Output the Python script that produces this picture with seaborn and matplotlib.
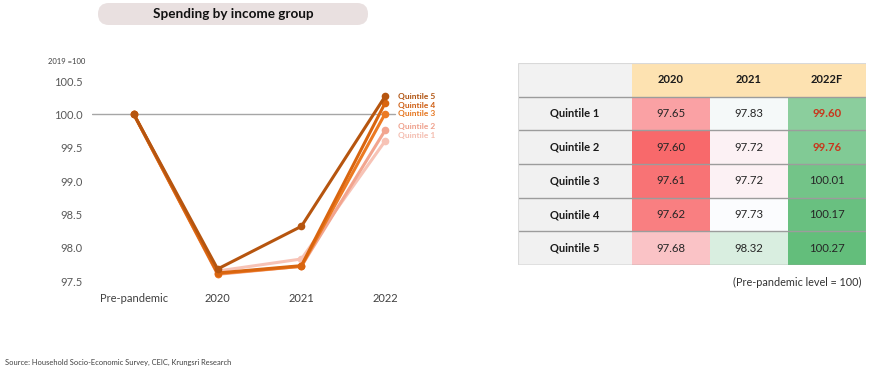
import numpy as np
import pandas as pd
import matplotlib
matplotlib.use("Agg")
import matplotlib.pyplot as plt
from matplotlib.patches import FancyBboxPatch, Rectangle
from matplotlib.colors import LinearSegmentedColormap, TwoSlopeNorm
import seaborn as sns

# ---------------- data ----------------
periods = ["Pre-pandemic", "2020", "2021", "2022"]
groups = ["Quintile 1", "Quintile 2", "Quintile 3", "Quintile 4", "Quintile 5"]
q1 = [100.0, 97.65, 97.83, 99.60]
q2 = [100.0, 97.60, 97.72, 99.76]
q3 = [100.0, 97.61, 97.72, 100.01]
q4 = [100.0, 97.62, 97.73, 100.17]
q5 = [100.0, 97.68, 98.32, 100.27]
table_cols = ["2020", "2021", "2022F"]
y_ticks = [97.5, 98.0, 98.5, 99.0, 99.5, 100.0, 100.5]

# ---------------- style ----------------
sns.set_theme(style="white")
plt.rcParams["font.family"] = ["Lato", "DejaVu Sans"]

line_colors = ["#F7C3B6", "#F2A58F", "#EC7A22", "#D9650F", "#B6550F"]
label_colors = ["#F4BDB0", "#EFA08C", "#E6761F", "#CF5F14", "#B0520F"]
label_offsets = [4, 3, 0, -2, 0]  # points

W, H = 870, 372
fig = plt.figure(figsize=(W / 100, H / 100), dpi=100)
fig.patch.set_facecolor("white")

def fx(px):
    return px / W

def fy(py):
    return 1 - py / H

# Title pill
pill = FancyBboxPatch((fx(98), fy(25)), fx(270), 22 / H,
                      boxstyle="round,pad=0,rounding_size=0.0125",
                      transform=fig.transFigure, facecolor="#E9E0E0",
                      edgecolor="none", mutation_aspect=W / H)
fig.patches.append(pill)
fig.text(fx(233), fy(14.5), "Spending by income group", ha="center", va="center",
         fontsize=9.7, fontweight="bold", color="#111111")

# ---------------- line chart ----------------
ax = fig.add_axes([fx(92), fy(281), fx(335), 200 / H])
series = [q1, q2, q3, q4, q5]
rows = []
for g, vals in zip(groups, series):
    for i, (p, v) in enumerate(zip(periods, vals)):
        rows.append({"group": g, "pos": i, "value": v})
long_df = pd.DataFrame(rows)

ax.axhline(100.0, xmin=0, xmax=0.905, color="#A6A6A6", lw=1.0, zorder=1)
sns.lineplot(data=long_df, x="pos", y="value", hue="group", hue_order=groups,
             palette=line_colors, marker="o", markersize=5.5, markeredgewidth=0,
             linewidth=2.2, legend=False, ax=ax, sort=False, zorder=3)

ax.set_xlim(-0.5, 3.5)
ax.set_ylim(97.5, 100.5)
ax.set_yticks(y_ticks)
ax.set_yticklabels([f"{t:.1f}" for t in y_ticks])
ax.set_xticks(range(len(periods)))
ax.set_xticklabels(periods)
ax.tick_params(axis="y", length=0, pad=7, labelsize=8, labelcolor="#595959")
ax.tick_params(axis="x", length=0, pad=9, labelsize=8, labelcolor="#404040")
ax.set_xlabel("")
ax.set_ylabel("")
for s in ax.spines.values():
    s.set_visible(False)
ax.patch.set_alpha(0)
for g, vals, c, off in zip(groups, series, label_colors, label_offsets):
    ax.annotate(g, xy=(len(periods) - 1, vals[-1]), xytext=(9, off),
                textcoords="offset points", ha="left", va="center",
                fontsize=6, fontweight="bold", color=c, annotation_clip=False)

fig.text(fx(48), fy(62), "2019 =100", ha="left", va="center", fontsize=5.5,
         color="#404040")

# ---------------- table (heatmap) ----------------
tab = pd.DataFrame({"2020": [s[1] for s in series],
                    "2021": [s[2] for s in series],
                    "2022F": [s[3] for s in series]}, index=groups)
allv = tab.values.ravel()
norm = TwoSlopeNorm(vmin=allv.min(), vcenter=np.percentile(allv, 50), vmax=allv.max())
cmap = LinearSegmentedColormap.from_list("xl3", ["#F8696B", "#FCFCFF", "#63BE7B"])

axt = fig.add_axes([fx(518), fy(265), fx(348), 202 / H])
sns.heatmap(tab, ax=axt, cmap=cmap, norm=norm, cbar=False, annot=True, fmt=".2f",
            annot_kws={"fontsize": 8.2, "color": "#262626"}, linewidths=0,
            xticklabels=False, yticklabels=False)
lw = 1.46
axt.set_xlim(-lw, 3)
axt.set_ylim(5, -1)
axt.set_xticks([])
axt.set_yticks([])

# red bold for 2022F values below pre-pandemic level
for t in axt.texts:
    x, y = t.get_position()
    col = int(x)
    row = int(y)
    if col == 2 and tab.iloc[row, 2] < 100:
        t.set_color("#C8361C")
        t.set_fontweight("bold")

# header & label column backgrounds
axt.add_patch(Rectangle((-lw, -1), lw, 1, facecolor="#F2F2F2", edgecolor="none", zorder=0.5))
axt.add_patch(Rectangle((0, -1), 3, 1, facecolor="#FDE2B1", edgecolor="none", zorder=0.5))
axt.add_patch(Rectangle((-lw, 0), lw, 5, facecolor="#F1F1F1", edgecolor="none", zorder=0.5))
for j, c in enumerate(table_cols):
    axt.text(j + 0.5, -0.5, c, ha="center", va="center", fontsize=8,
             fontweight="bold", color="#1A1A1A")
for i, g in enumerate(groups):
    axt.text(-lw / 2, i + 0.5, g, ha="center", va="center", fontsize=8,
             fontweight="bold", color="#1A1A1A")
axt.hlines(range(0, 6), -lw, 3, colors="#9C9C9C", lw=1.0, zorder=3)
axt.hlines([-1], -lw, 3, colors="#D9D9D9", lw=0.8, zorder=3)
axt.vlines([-lw, 3], -1, 5, colors="#DADADA", lw=0.8, zorder=3)
for s in axt.spines.values():
    s.set_visible(False)

fig.text(fx(862), fy(282), "(Pre-pandemic level = 100)", ha="right", va="center",
         fontsize=7.8, color="#333333")
fig.text(fx(5), fy(362), "Source: Household Socio-Economic Survey, CEIC, Krungsri Research",
         ha="left", va="center", fontsize=5.45, color="#404040")

fig.savefig("out.png", dpi=100, facecolor="white")
